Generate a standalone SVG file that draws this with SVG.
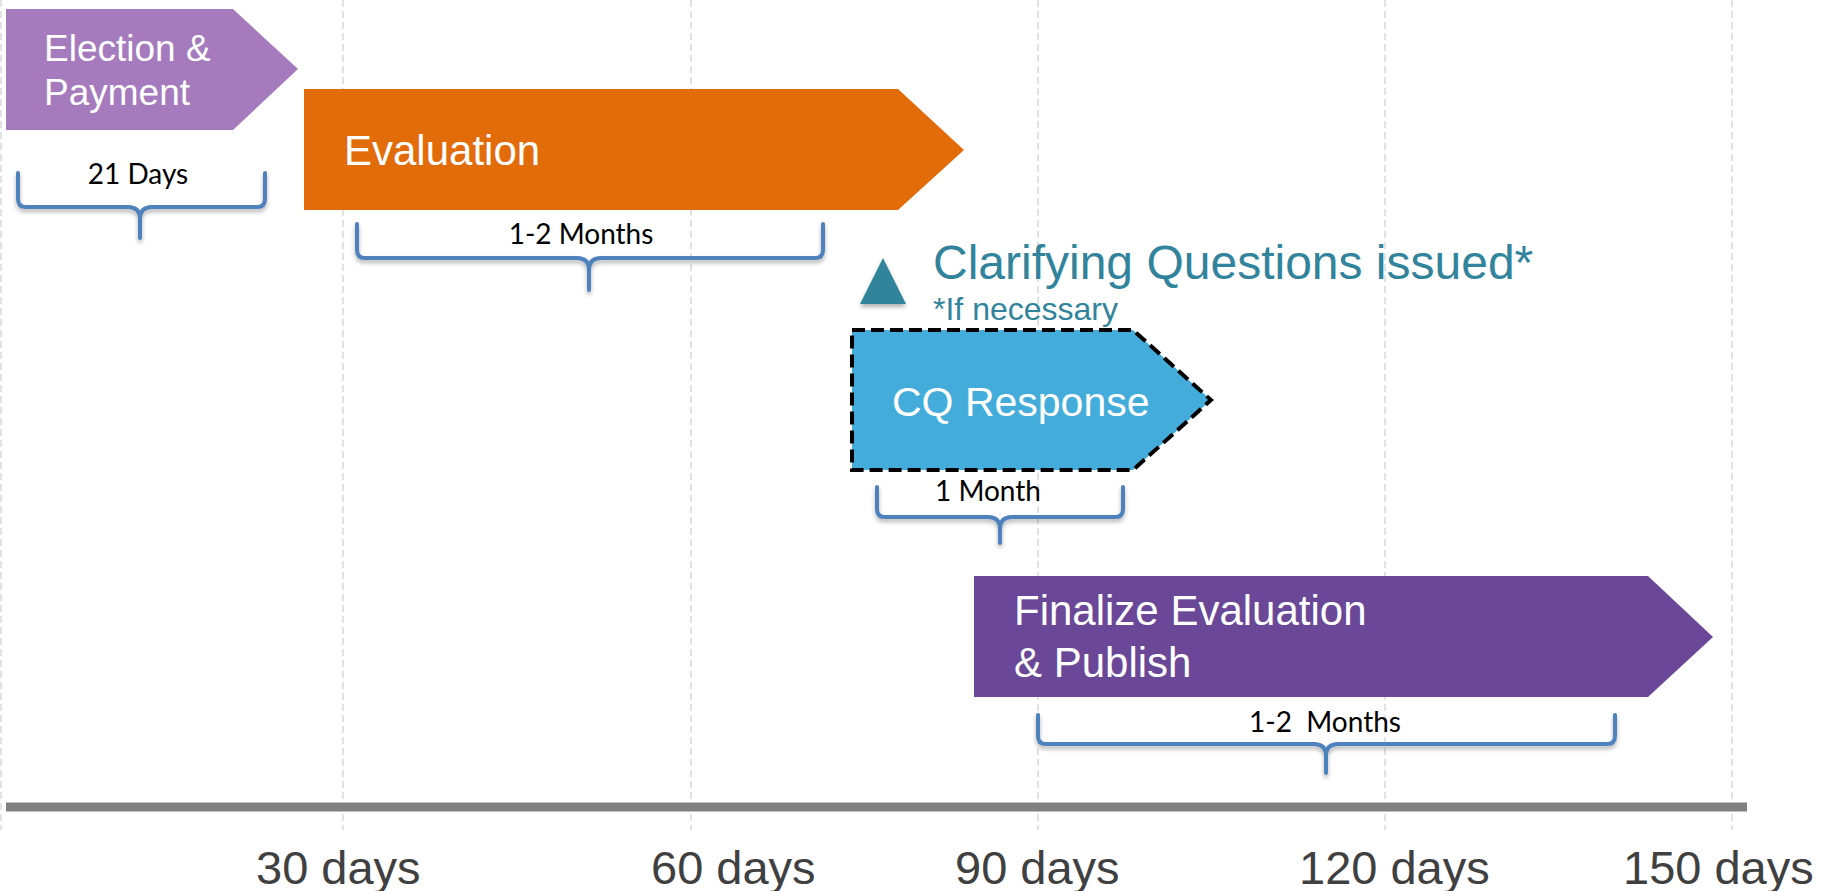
<svg xmlns="http://www.w3.org/2000/svg" width="1822" height="891" viewBox="0 0 1822 891">
  <defs>
    <filter id="shadow" x="-20%" y="-20%" width="140%" height="160%">
      <feDropShadow dx="0" dy="3" stdDeviation="2" flood-color="#000" flood-opacity="0.3"/>
    </filter>
  </defs>
  <style>
    .grid { stroke: #d9d9d9; stroke-width: 1.5; stroke-dasharray: 7 4; fill: none; }
    .axis { stroke: #808080; stroke-width: 9; fill: none; }
    .axlabel { font-family: "Liberation Sans", Arial, sans-serif; font-size: 47px; fill: #404040; }
    .phase { font-family: "Liberation Sans", Arial, sans-serif; fill: #ffffff; }
    .brace { stroke: #4f81bd; stroke-width: 4; fill: none; stroke-linecap: round; stroke-linejoin: round; filter: url(#shadow); }
    .blabel { font-family: Lato, "Open Sans", sans-serif; font-size: 28px; fill: #000000; text-anchor: middle; }
    .teal { font-family: "Liberation Sans", Arial, sans-serif; fill: #31849b; }
  </style>

  <rect width="1822" height="891" fill="#ffffff"/>

  <g id="timeline">
    <line class="grid" x1="1" y1="0" x2="1" y2="830"/>
    <line class="grid" x1="343" y1="0" x2="343" y2="830"/>
    <line class="grid" x1="691" y1="0" x2="691" y2="830"/>
    <line class="grid" x1="1038" y1="0" x2="1038" y2="830"/>
    <line class="grid" x1="1385" y1="0" x2="1385" y2="830"/>
    <line class="grid" x1="1732" y1="0" x2="1732" y2="830"/>
    <line class="axis" x1="6" y1="807" x2="1747" y2="807"/>
    <text class="axlabel" x="256" y="884">30 days</text>
    <text class="axlabel" x="651" y="884">60 days</text>
    <text class="axlabel" x="955" y="884">90 days</text>
    <text class="axlabel" x="1299" y="884">120 days</text>
    <text class="axlabel" x="1623" y="884">150 days</text>
  </g>

  <g id="election">
    <polygon points="6,9 233,9 298,69 233,130 6,130" fill="#a57bbd"/>
    <text class="phase" x="44" y="61" font-size="37">Election &amp;</text>
    <text class="phase" x="44" y="105" font-size="37">Payment</text>
  </g>

  <g id="evaluation">
    <polygon points="304,89 898,89 964,150 898,210 304,210" fill="#e36c0a"/>
    <text class="phase" x="344" y="165" font-size="42">Evaluation</text>
  </g>

  <g id="clarifying">
    <polygon points="883,258 906,304 860,304" fill="#31849b" filter="url(#shadow)"/>
    <text class="teal" x="933" y="279" font-size="48">Clarifying Questions issued*</text>
    <text class="teal" x="933" y="320" font-size="32">*If necessary</text>
  </g>

  <g id="cq-response">
    <polygon points="852,330 1133,330 1211,400 1133,470 852,470" fill="#43acdb" stroke="#000000" stroke-width="4" stroke-dasharray="13 6" stroke-linejoin="miter"/>
    <text class="phase" x="892" y="416" font-size="41">CQ Response</text>
  </g>

  <g id="finalize">
    <polygon points="974,576 1648,576 1713,637 1648,697 974,697" fill="#6a4897"/>
    <text class="phase" x="1014" y="625" font-size="42">Finalize Evaluation</text>
    <text class="phase" x="1014" y="677" font-size="42">&amp; Publish</text>
  </g>

  <g id="connectors">
    <g id="brace-21days">
      <path class="brace" d="M18,173 V199 Q18,207 26,207 H128 Q140,207 140,219 V238 M140,219 Q140,207 152,207 H257 Q265,207 265,199 V173"/>
      <text class="blabel" x="138" y="184">21 Days</text>
    </g>
    <g id="brace-eval">
      <path class="brace" d="M357,224 V250 Q357,258 365,258 H577 Q589,258 589,270 V290 M589,270 Q589,258 601,258 H815 Q823,258 823,250 V224"/>
      <text class="blabel" x="581" y="244">1-2 Months</text>
    </g>
    <g id="brace-cq">
      <path class="brace" d="M877,487 V509 Q877,517 885,517 H988 Q1000,517 1000,529 V543 M1000,529 Q1000,517 1012,517 H1115 Q1123,517 1123,509 V487"/>
      <text class="blabel" x="988" y="501">1 Month</text>
    </g>
    <g id="brace-final">
      <path class="brace" d="M1038,715 V736 Q1038,744 1046,744 H1314 Q1326,744 1326,756 V773 M1326,756 Q1326,744 1338,744 H1607 Q1615,744 1615,736 V715"/>
      <text class="blabel" x="1325" y="732" xml:space="preserve">1-2  Months</text>
    </g>
  </g>
</svg>
